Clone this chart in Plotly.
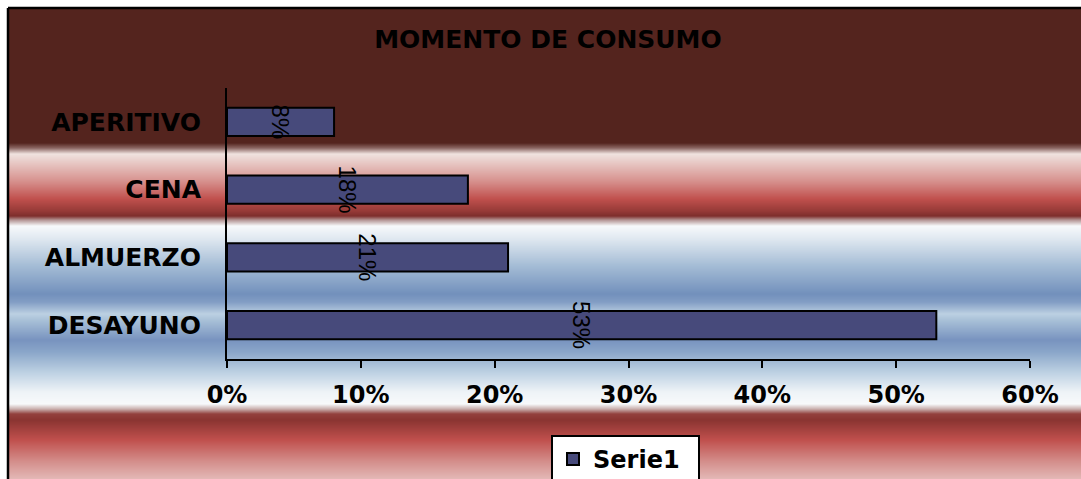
import base64
import struct
import zlib

import plotly.graph_objects as go

# --- data -------------------------------------------------------------
categories = ["DESAYUNO", "ALMUERZO", "CENA", "APERITIVO"]
shares = [0.53, 0.21, 0.18, 0.08]
series_name = "Serie1"
chart_title = "MOMENTO DE CONSUMO"

# --- geometry (pixels) -------------------------------------------------
W, H = 1081, 479
PLOT_L, PLOT_R, PLOT_T, PLOT_B = 227, 1030, 88, 359
FRAME = 8


def px_x(px):
    return (px - PLOT_L) / (PLOT_R - PLOT_L)


def px_y(py):
    return (PLOT_B - py) / (PLOT_B - PLOT_T)


# --- banded background, rendered as a tall thin PNG --------------------
bg_stops = [
    (9, "#54241e"), (143, "#54241e"), (148, "#8a6561"), (154, "#efe2df"),
    (162, "#e8cbc7"), (182, "#d68e8b"), (199, "#c0504d"), (211, "#963a37"),
    (216, "#7e2e2c"), (220, "#b39493"), (226, "#f7f9fb"), (238, "#e1e9f1"),
    (266, "#a4bcd5"), (294, "#7290bc"), (302, "#829dc4"), (314, "#bcd0e2"),
    (320, "#a9c1d8"), (340, "#7893bf"), (352, "#8aa6c9"), (372, "#bcd0e2"),
    (392, "#eef3f7"), (404, "#f7f9fb"), (409, "#c9b0ae"), (414, "#93403d"),
    (420, "#8a3431"), (440, "#c0504d"), (462, "#d48f8c"), (479, "#e3b8b6"),
]


def hex_rgb(h):
    h = h.lstrip("#")
    return tuple(int(h[i:i + 2], 16) for i in (0, 2, 4))


def color_at(y):
    for (y0, c0), (y1, c1) in zip(bg_stops, bg_stops[1:]):
        if y0 <= y <= y1:
            t = 0 if y1 == y0 else (y - y0) / (y1 - y0)
            a, b = hex_rgb(c0), hex_rgb(c1)
            return tuple(round(a[i] + (b[i] - a[i]) * t) for i in range(3))
    return hex_rgb(bg_stops[-1][1])


def png_data_uri(rows, width=4):
    raw = b"".join(b"\x00" + bytes(rgb) * width for rgb in rows)

    def chunk(tag, data):
        return (struct.pack(">I", len(data)) + tag + data
                + struct.pack(">I", zlib.crc32(tag + data) & 0xFFFFFFFF))

    png = (b"\x89PNG\r\n\x1a\n"
           + chunk(b"IHDR", struct.pack(">IIBBBBB", width, len(rows), 8, 2, 0, 0, 0))
           + chunk(b"IDAT", zlib.compress(raw, 9))
           + chunk(b"IEND", b""))
    return "data:image/png;base64," + base64.b64encode(png).decode()


bg_rows = [color_at(y + 0.5) for y in range(FRAME + 1, H)]
bg_uri = png_data_uri(bg_rows)

BAR_COLOR = "#474a7b"
BOLD = "DejaVu Sans"

fig = go.Figure()
fig.add_trace(go.Bar(
    x=shares,
    y=categories,
    orientation="h",
    name=series_name,
    width=0.42,
    marker=dict(color=BAR_COLOR, line=dict(color="black", width=2)),
    texttemplate="%{x:.0%}",
    textposition="inside",
    insidetextanchor="middle",
    textangle=90,
    constraintext="none",
    insidetextfont=dict(family="Liberation Sans", size=24, color="black"),
    showlegend=True,
    hoverinfo="skip",
))

fig.update_layout(
    width=W,
    height=H,
    margin=dict(l=PLOT_L, r=W - PLOT_R, t=PLOT_T, b=H - PLOT_B, pad=0),
    paper_bgcolor="white",
    plot_bgcolor="rgba(0,0,0,0)",
    title=dict(
        text=chart_title,
        x=548 / W, xref="container", xanchor="center",
        y=1 - 39 / H, yref="container", yanchor="middle",
        font=dict(family=BOLD, size=25, color="black", weight="bold"),
    ),
    xaxis=dict(
        range=[0, 0.6],
        dtick=0.1,
        tickformat=".0%",
        showgrid=False,
        zeroline=False,
        showline=True,
        linecolor="black",
        linewidth=2,
        ticks="outside",
        ticklen=7,
        tickwidth=2,
        tickcolor="black",
        ticklabelstandoff=6,
        tickfont=dict(family=BOLD, size=24, color="black", weight="bold"),
        fixedrange=True,
    ),
    yaxis=dict(
        categoryorder="array",
        categoryarray=categories,
        showgrid=False,
        zeroline=False,
        showline=True,
        linecolor="black",
        linewidth=2,
        ticks="",
        ticklabelstandoff=19,
        tickfont=dict(family=BOLD, size=25, color="black", weight="bold"),
        fixedrange=True,
    ),
    legend=dict(
        orientation="h",
        xref="container", x=551 / W, xanchor="left",
        yref="container", y=1 - 435 / H, yanchor="top",
        bgcolor="white",
        bordercolor="black",
        borderwidth=2,
        font=dict(family=BOLD, size=24, color="black", weight="bold"),
        itemwidth=30,
        entrywidth=100,
    ),
    images=[dict(
        source=bg_uri,
        xref="paper", yref="paper",
        x=px_x(FRAME + 1), y=px_y(FRAME + 1),
        sizex=(W - FRAME - 1) / (PLOT_R - PLOT_L),
        sizey=(H - FRAME - 1) / (PLOT_B - PLOT_T),
        xanchor="left", yanchor="top",
        sizing="stretch",
        layer="below",
    )],
    shapes=[
        dict(type="line", xref="paper", yref="paper",
             x0=px_x(FRAME), x1=px_x(W + 2), y0=px_y(FRAME), y1=px_y(FRAME),
             line=dict(color="black", width=2.5)),
        dict(type="line", xref="paper", yref="paper",
             x0=px_x(FRAME), x1=px_x(FRAME), y0=px_y(FRAME), y1=px_y(H + 2),
             line=dict(color="black", width=2.5)),
    ],
)

fig.write_html("out.html", config={"displayModeBar": False})
